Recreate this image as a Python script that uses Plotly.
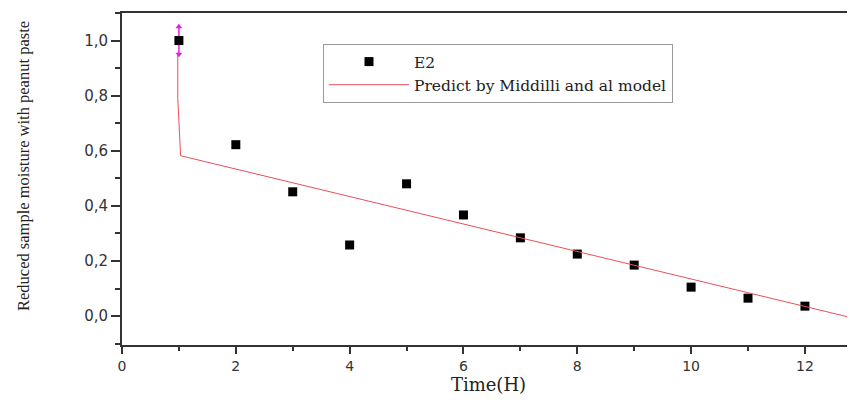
import plotly.graph_objects as go

# Experimental data (E2)
time_h = [1, 2, 3, 4, 5, 6, 7, 8, 9, 10, 11, 12]
moisture = [1.0, 0.622, 0.451, 0.258, 0.48, 0.367, 0.284, 0.225, 0.185, 0.105, 0.065, 0.036]
err_first = [0.05, 0, 0, 0, 0, 0, 0, 0, 0, 0, 0, 0]

# Model prediction (Middilli)
model_t = [0.98, 0.98, 1.03, 13.0]
model_y = [0.95, 0.79, 0.582, -0.015]

x_ticks = [0, 2, 4, 6, 8, 10, 12]
y_ticks = [0.0, 0.2, 0.4, 0.6, 0.8, 1.0]
right_ticks = [0.138, 0.378, 0.62, 0.865]

serif = "Liberation Serif"
wide_serif = "DejaVu Serif"
sans = "DejaVu Sans"
y_range = [-0.105, 1.1]

fig = go.Figure()
fig.add_trace(go.Scatter(
    x=model_t, y=model_y, mode="lines", yaxis="y2",
    line=dict(color="#e8505a", width=1),
    name="Predict by Middilli and al model",
))
fig.add_trace(go.Scatter(
    x=time_h, y=moisture, mode="markers",
    marker=dict(symbol="square", size=9, color="black"),
    error_y=dict(type="data", array=err_first, color="#e020e0", thickness=1.5, width=0),
    name="E2",
))
# arrow caps of the error bar
fig.add_trace(go.Scatter(
    x=[time_h[0], time_h[0]],
    y=[moisture[0] + err_first[0], moisture[0] - err_first[0]],
    mode="markers",
    marker=dict(symbol=["triangle-up", "triangle-down"], size=6, color="#e020e0"),
    showlegend=False, hoverinfo="skip",
))

# page body has an 8px margin, so the figure is sized to fit the 855x400 window
fig.update_layout(
    width=847, height=392,
    margin=dict(l=114, r=0, t=5, b=55, autoexpand=False),
    paper_bgcolor="white", plot_bgcolor="white",
    separators=",.",
    showlegend=True,
    legend=dict(
        x=(323 - 122) / 733, y=(345 - 44) / 332, xanchor="left", yanchor="top",
        bordercolor="#9a9a9a", borderwidth=1,
        font=dict(family=wide_serif, size=15.5, color="#222"),
        traceorder="reversed",
        itemwidth=80, tracegroupgap=0,
        bgcolor="white",
    ),
    xaxis=dict(
        range=[0, 12.88], tickvals=x_ticks, automargin=False,
        ticks="outside", ticklen=7, tickwidth=1.5, tickcolor="#333",
        minor=dict(dtick=1, tick0=1, ticks="outside", ticklen=4, tickcolor="#333"),
        showline=True, linecolor="#333", linewidth=2, mirror=True,
        showgrid=False, zeroline=False,
        tickfont=dict(family=sans, size=14, color="#333"),
        title=dict(text="Time(H)", font=dict(family=wide_serif, size=18, color="#222"), standoff=6),
    ),
    yaxis=dict(
        range=y_range, tickvals=y_ticks, tickformat=".1f", automargin=False,
        ticks="outside", ticklen=9, tickwidth=1.5, tickcolor="#333",
        minor=dict(dtick=0.1, tick0=0.1, ticks="outside", ticklen=5, tickcolor="#333"),
        showline=True, linecolor="#333", linewidth=2,
        showgrid=False, zeroline=False,
        tickfont=dict(family=sans, size=15, color="#333"),
    ),
    yaxis2=dict(
        overlaying="y", side="right", range=y_range, automargin=False,
        tickvals=right_ticks, showticklabels=False,
        ticks="inside", ticklen=5, tickcolor="#333",
        showgrid=False, zeroline=False, showline=False,
    ),
    annotations=[dict(
        text="Reduced sample moisture with peanut paste",
        xref="paper", yref="paper", x=(23 - 122) / 733, y=(345 - 166) / 332,
        xanchor="center", yanchor="middle", textangle=-90, showarrow=False,
        font=dict(family=serif, size=16.5, color="#222"),
    )],
)

fig.write_html("out.html")
